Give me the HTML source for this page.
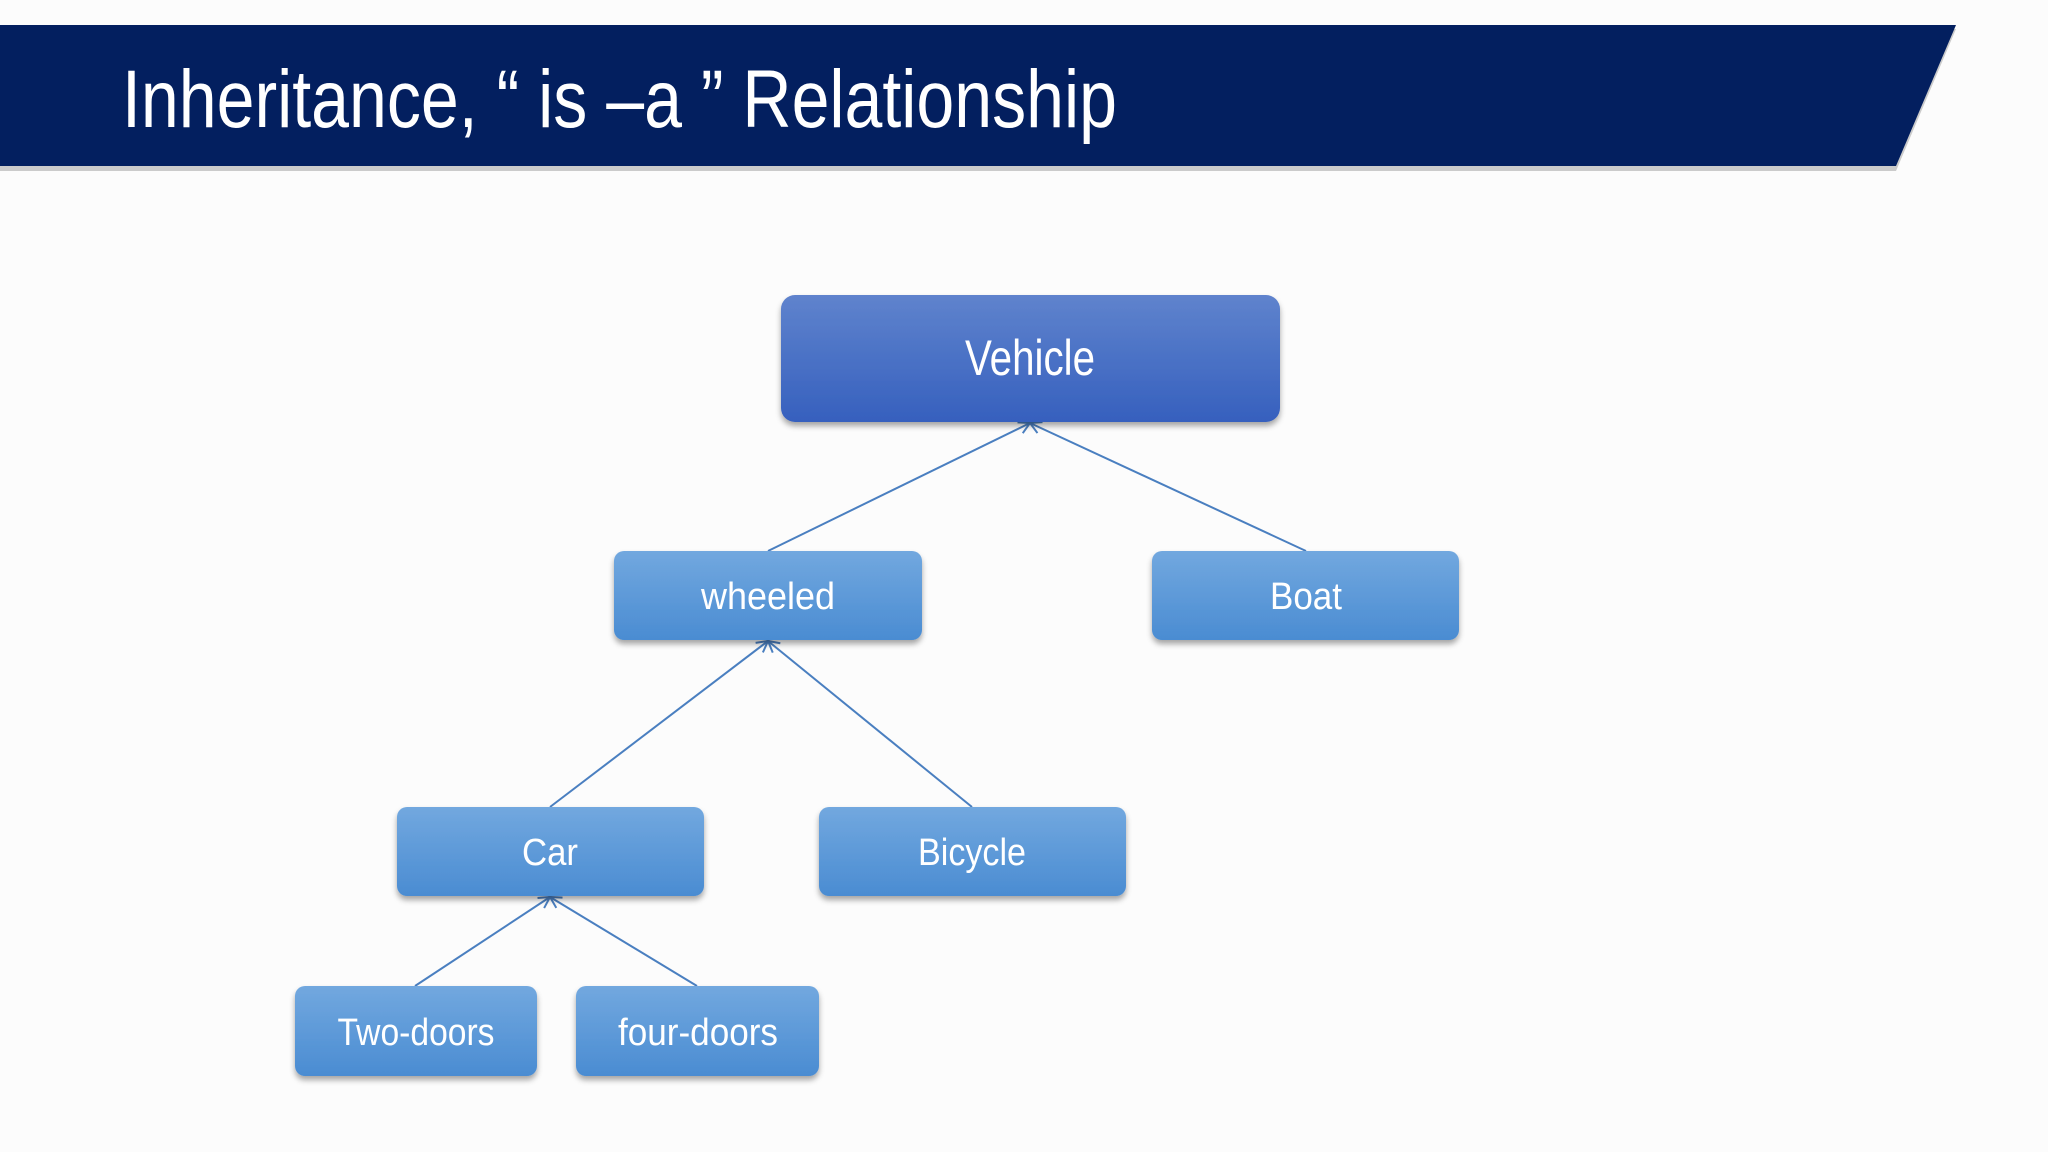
<!DOCTYPE html>
<html><head><meta charset="utf-8"><style>
html,body{margin:0;padding:0;background:#fcfcfc;width:2048px;height:1152px;overflow:hidden}
svg{display:block}
text{font-family:"Liberation Sans",sans-serif;fill:#fff}
</style></head><body>
<svg width="2048" height="1152" viewBox="0 0 2048 1152" xmlns="http://www.w3.org/2000/svg">
<defs>
<linearGradient id="gv" x1="0" y1="0" x2="0" y2="1"><stop offset="0" stop-color="#5f83cd"/><stop offset="1" stop-color="#3660be"/></linearGradient>
<linearGradient id="gb" x1="0" y1="0" x2="0" y2="1"><stop offset="0" stop-color="#72a8df"/><stop offset="1" stop-color="#4a8cd2"/></linearGradient>
<filter id="sh" x="-10%" y="-10%" width="120%" height="140%"><feDropShadow dx="0" dy="4" stdDeviation="3" flood-color="#000" flood-opacity="0.35"/></filter>
<marker id="ar" markerWidth="14" markerHeight="14" refX="12" refY="7" orient="auto" markerUnits="userSpaceOnUse"><path d="M1,1 L12,7 L1,13" fill="none" stroke="#4a7fc0" stroke-width="2"/></marker>
</defs>
<rect width="2048" height="1152" fill="#fcfcfc"/>
<polygon points="0,29 1956,29 1896,171 0,171" fill="#9a9a9a" opacity="0.5"/>
<polygon points="0,25 1956,25 1896,166 0,166" fill="#031f5f"/>
<text x="122" y="127" font-size="82" textLength="995" lengthAdjust="spacingAndGlyphs">Inheritance, “ is –a ” Relationship</text>

<g stroke="#4a7fc0" stroke-width="2" fill="none">
<line x1="768" y1="551" x2="1030" y2="423" marker-end="url(#ar)"/>
<line x1="1306" y1="551" x2="1030" y2="423" marker-end="url(#ar)"/>
<line x1="550" y1="807" x2="768" y2="641" marker-end="url(#ar)"/>
<line x1="972" y1="807" x2="768" y2="641" marker-end="url(#ar)"/>
<line x1="415" y1="986" x2="550" y2="897" marker-end="url(#ar)"/>
<line x1="697" y1="986" x2="550" y2="897" marker-end="url(#ar)"/>
</g>

<g filter="url(#sh)">
<rect x="781" y="295" width="499" height="127" rx="14" fill="url(#gv)"/>
<rect x="614" y="551" width="308" height="89" rx="10" fill="url(#gb)"/>
<rect x="1152" y="551" width="307" height="89" rx="10" fill="url(#gb)"/>
<rect x="397" y="807" width="307" height="89" rx="10" fill="url(#gb)"/>
<rect x="819" y="807" width="307" height="89" rx="10" fill="url(#gb)"/>
<rect x="295" y="986" width="242" height="90" rx="10" fill="url(#gb)"/>
<rect x="576" y="986" width="243" height="90" rx="10" fill="url(#gb)"/>
</g>

<g text-anchor="middle">
<text x="1030" y="375" font-size="50" textLength="130" lengthAdjust="spacingAndGlyphs">Vehicle</text>
<text x="768" y="609" font-size="38" textLength="134" lengthAdjust="spacingAndGlyphs">wheeled</text>
<text x="1306" y="609" font-size="38" textLength="72" lengthAdjust="spacingAndGlyphs">Boat</text>
<text x="550" y="865" font-size="38" textLength="56" lengthAdjust="spacingAndGlyphs">Car</text>
<text x="972" y="865" font-size="38" textLength="108" lengthAdjust="spacingAndGlyphs">Bicycle</text>
<text x="416" y="1045" font-size="38" textLength="157" lengthAdjust="spacingAndGlyphs">Two-doors</text>
<text x="698" y="1045" font-size="38" textLength="160" lengthAdjust="spacingAndGlyphs">four-doors</text>
</g>
</svg>
</body></html>
